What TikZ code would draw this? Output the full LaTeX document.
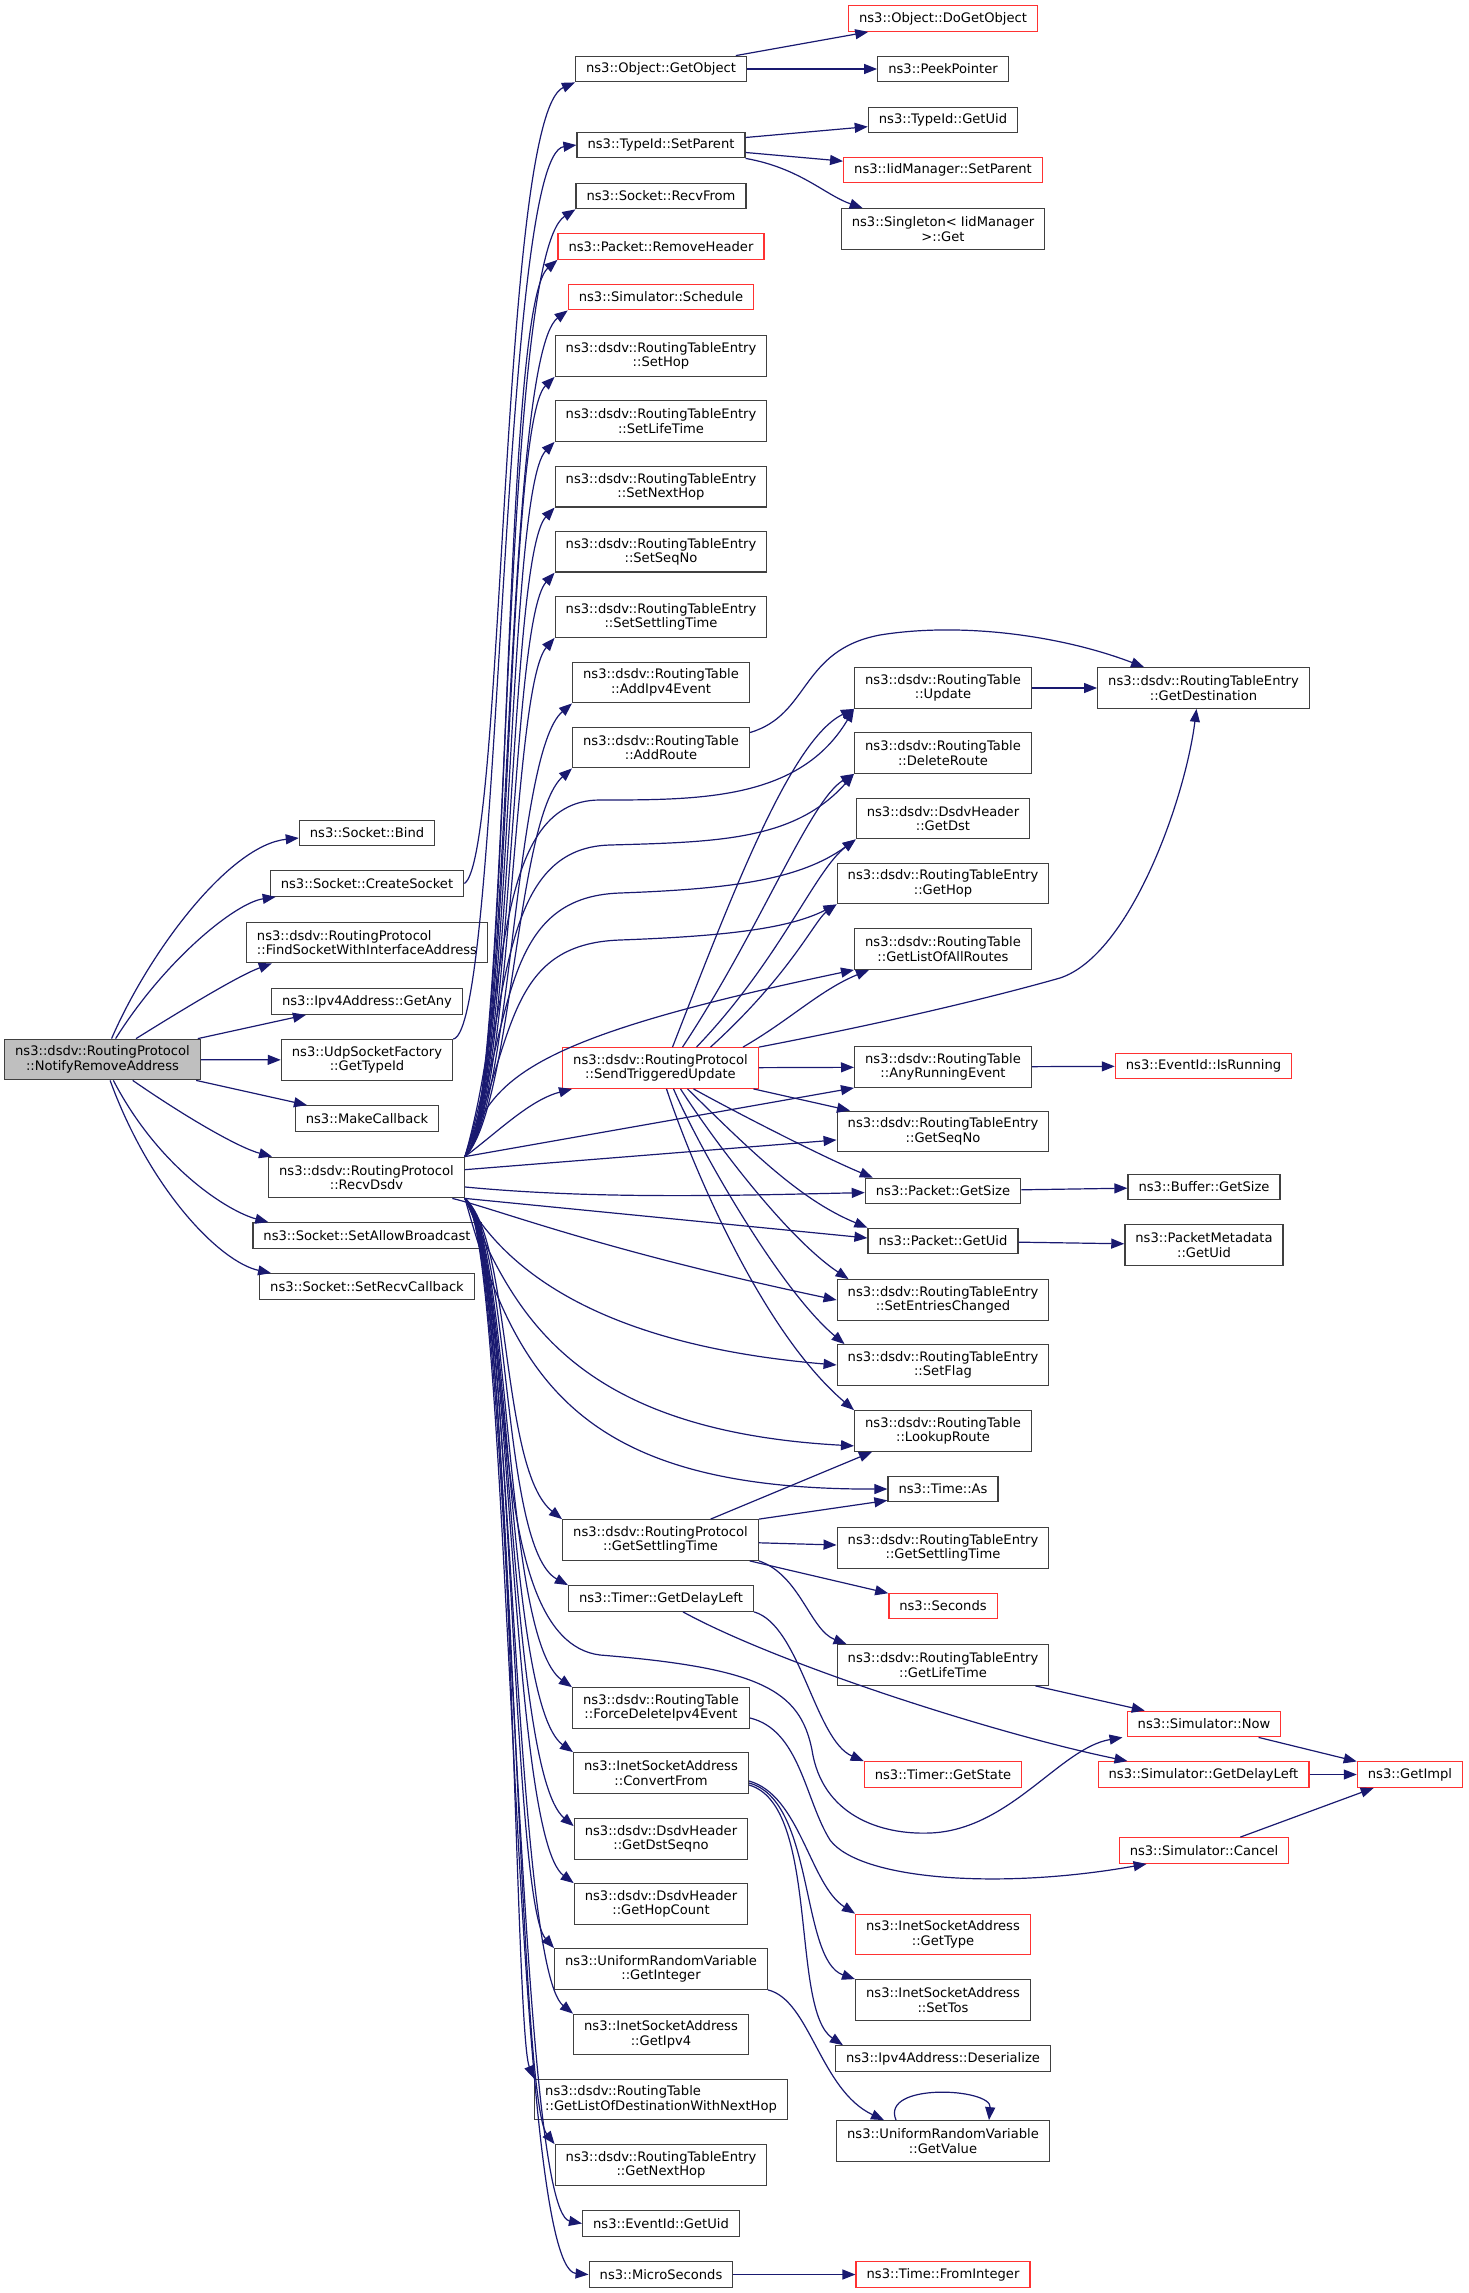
\documentclass[tikz,border=0pt]{standalone}
\usepackage{fontspec}
\usepackage{tikz}
\usetikzlibrary{arrows.meta}
\newfontfamily\graphfont{DejaVu Sans}
\definecolor{edgeblue}{RGB}{25,25,112}
\definecolor{boxgray}{RGB}{64,64,64}
\definecolor{boxred}{RGB}{255,50,50}
\definecolor{rootfill}{RGB}{191,191,191}

\begin{document}
\begin{tikzpicture}[x=1pt,y=-1pt,
	fn/.style={draw=boxgray, line width=1.3pt, fill=white, font=\graphfont\fontsize{13.1}{14.5}\selectfont, inner xsep=10.5pt, inner ysep=0pt, minimum height=25.5pt},
	fntwo/.style={fn, align=center, minimum height=40.5pt},
	trunc/.style={draw=boxred},
	call/.style={draw=edgeblue, line width=1.2pt, -{Triangle[length=13pt,width=10pt]}}]
				\useasboundingbox (0,0) rectangle (1468,2293);
				% root
				\node[fntwo, fill=rootfill] (nra) at (102.5,1059.5) {ns3::dsdv::RoutingProtocol\\::NotifyRemoveAddress};
				% second column
				\node[fn] (bind) at (367,833) {ns3::Socket::Bind};
				\node[fn] (csock) at (367,883.5) {ns3::Socket::CreateSocket};
				\node[fntwo, align=left] (fsock) at (367,942.5) {ns3::dsdv::RoutingProtocol\\::FindSocketWithInterfaceAddress};
				\node[fn] (getany) at (367,1001.5) {ns3::Ipv4Address::GetAny};
				\node[fntwo] (udptid) at (367,1060) {ns3::UdpSocketFactory\\::GetTypeId};
				\node[fn] (mkcb) at (367,1118.5) {ns3::MakeCallback};
				\node[fntwo] (rd) at (366.5,1177.5) {ns3::dsdv::RoutingProtocol\\::RecvDsdv};
				\node[fn] (sab) at (367,1235.5) {ns3::Socket::SetAllowBroadcast};
				\node[fn] (src) at (367,1286.5) {ns3::Socket::SetRecvCallback};
				% third column
				\node[fn] (getobj) at (661,69) {ns3::Object::GetObject};
				\node[fn] (setpar) at (661,145) {ns3::TypeId::SetParent};
				\node[fn] (recvfrom) at (661,196) {ns3::Socket::RecvFrom};
				\node[fn, trunc] (rmhdr) at (661,246.5) {ns3::Packet::RemoveHeader};
				\node[fn, trunc] (sched) at (661,297) {ns3::Simulator::Schedule};
				\node[fntwo] (sethop) at (661,356) {ns3::dsdv::RoutingTableEntry\\::SetHop};
				\node[fntwo] (setlife) at (661,421) {ns3::dsdv::RoutingTableEntry\\::SetLifeTime};
				\node[fntwo] (setnext) at (661,486.7) {ns3::dsdv::RoutingTableEntry\\::SetNextHop};
				\node[fntwo] (setseq) at (661,551.8) {ns3::dsdv::RoutingTableEntry\\::SetSeqNo};
				\node[fntwo] (setsettle) at (661,617) {ns3::dsdv::RoutingTableEntry\\::SetSettlingTime};
				\node[fntwo] (addev) at (661,682.5) {ns3::dsdv::RoutingTable\\::AddIpv4Event};
				\node[fntwo] (addrt) at (661,747.5) {ns3::dsdv::RoutingTable\\::AddRoute};
				\node[fntwo, trunc] (stu) at (660.5,1068) {ns3::dsdv::RoutingProtocol\\::SendTriggeredUpdate};
				\node[fntwo] (gst) at (660.5,1540) {ns3::dsdv::RoutingProtocol\\::GetSettlingTime};
				\node[fn] (tgdl) at (661,1598.5) {ns3::Timer::GetDelayLeft};
				\node[fntwo] (fdel) at (661,1708) {ns3::dsdv::RoutingTable\\::ForceDeleteIpv4Event};
				\node[fntwo] (conv) at (661,1773) {ns3::InetSocketAddress\\::ConvertFrom};
				\node[fntwo] (gdseq) at (661,1839) {ns3::dsdv::DsdvHeader\\::GetDstSeqno};
				\node[fntwo] (ghc) at (661,1904) {ns3::dsdv::DsdvHeader\\::GetHopCount};
				\node[fntwo] (gint) at (661,1969) {ns3::UniformRandomVariable\\::GetInteger};
				\node[fntwo] (gipv4) at (661,2034.5) {ns3::InetSocketAddress\\::GetIpv4};
				\node[fntwo, align=left] (gldest) at (661,2099.5) {ns3::dsdv::RoutingTable\\::GetListOfDestinationWithNextHop};
				\node[fntwo] (gnext) at (661,2165) {ns3::dsdv::RoutingTableEntry\\::GetNextHop};
				\node[fn] (evuid) at (661,2223.5) {ns3::EventId::GetUid};
				\node[fn] (micro) at (661,2274.5) {ns3::MicroSeconds};
				% fourth column
				\node[fn, trunc] (dogo) at (943,18.5) {ns3::Object::DoGetObject};
				\node[fn] (peek) at (943,69) {ns3::PeekPointer};
				\node[fn] (tiduid) at (943,120) {ns3::TypeId::GetUid};
				\node[fn, trunc] (iidsp) at (943,170) {ns3::IidManager::SetParent};
				\node[fntwo] (single) at (943,229) {ns3::Singleton< IidManager\\>::Get};
				\node[fntwo] (upd) at (943,688) {ns3::dsdv::RoutingTable\\::Update};
				\node[fntwo] (delrt) at (943,753) {ns3::dsdv::RoutingTable\\::DeleteRoute};
				\node[fntwo] (gdst) at (943,818.5) {ns3::dsdv::DsdvHeader\\::GetDst};
				\node[fntwo] (ghop) at (943,883.5) {ns3::dsdv::RoutingTableEntry\\::GetHop};
				\node[fntwo] (glall) at (943,949) {ns3::dsdv::RoutingTable\\::GetListOfAllRoutes};
				\node[fntwo] (anyrun) at (943,1067) {ns3::dsdv::RoutingTable\\::AnyRunningEvent};
				\node[fntwo] (gseq) at (943,1131.5) {ns3::dsdv::RoutingTableEntry\\::GetSeqNo};
				\node[fn] (pgsize) at (943,1191) {ns3::Packet::GetSize};
				\node[fn] (pguid) at (943,1241) {ns3::Packet::GetUid};
				\node[fntwo] (setent) at (943,1300) {ns3::dsdv::RoutingTableEntry\\::SetEntriesChanged};
				\node[fntwo] (setflag) at (943,1365) {ns3::dsdv::RoutingTableEntry\\::SetFlag};
				\node[fntwo] (lookup) at (943,1431) {ns3::dsdv::RoutingTable\\::LookupRoute};
				\node[fn] (tas) at (943,1489) {ns3::Time::As};
				\node[fntwo] (rgst) at (943,1548) {ns3::dsdv::RoutingTableEntry\\::GetSettlingTime};
				\node[fn, trunc] (secs) at (943,1606) {ns3::Seconds};
				\node[fntwo] (glife) at (943,1665) {ns3::dsdv::RoutingTableEntry\\::GetLifeTime};
				\node[fn, trunc] (tgstate) at (943,1774.5) {ns3::Timer::GetState};
				\node[fntwo, trunc] (gtype) at (943,1934.5) {ns3::InetSocketAddress\\::GetType};
				\node[fntwo] (settos) at (943,2000) {ns3::InetSocketAddress\\::SetTos};
				\node[fn] (deser) at (943,2058.5) {ns3::Ipv4Address::Deserialize};
				\node[fntwo] (gval) at (943,2141) {ns3::UniformRandomVariable\\::GetValue};
				\node[fn, trunc] (fromint) at (943,2274.5) {ns3::Time::FromInteger};
				% fifth and sixth column
				\node[fntwo] (gdest) at (1203.5,688) {ns3::dsdv::RoutingTableEntry\\::GetDestination};
				\node[fn, trunc] (isrun) at (1203.5,1066) {ns3::EventId::IsRunning};
				\node[fn] (bgsize) at (1204,1187) {ns3::Buffer::GetSize};
				\node[fntwo] (pmuid) at (1204,1245) {ns3::PacketMetadata\\::GetUid};
				\node[fn, trunc] (snow) at (1204,1724) {ns3::Simulator::Now};
				\node[fn, trunc] (sgdl) at (1203.5,1774.5) {ns3::Simulator::GetDelayLeft};
				\node[fn, trunc] (scancel) at (1204,1850.5) {ns3::Simulator::Cancel};
				\node[fn, trunc] (gimpl) at (1410,1774.5) {ns3::GetImpl};
				% calls of the root
				\draw[call] (nra) .. controls (150,950) and (230,845) .. ([yshift=-5pt]bind.west);
				\draw[call] (nra) .. controls (165,960) and (235,903) .. ([xshift=6pt]csock.south west);
				\draw[call] (nra) .. controls (190,1005) and (240,975) .. ([xshift=26pt]fsock.south west);
				\draw[call] (nra) -- (getany);
				\draw[call] (nra) -- (udptid);
				\draw[call] (nra) -- (mkcb);
				\draw[call] (nra) .. controls (190,1120) and (240,1148) .. ([xshift=4pt]rd.north west);
				\draw[call] (nra) .. controls (160,1170) and (230,1212) .. ([xshift=16pt]sab.north west);
				\draw[call] (nra) .. controls (150,1190) and (220,1262) .. ([xshift=12pt]src.north west);
				% second column
				\draw[call] (csock.east) .. controls (505,860) and (500,115) .. (getobj.south west);
				\draw[call] (udptid.north east) .. controls (502,1030) and (500,155) .. (setpar.west);
				% RecvDsdv, upwards
				\draw[call] (rd.north east) .. controls (512,1110) and (498,259) .. (recvfrom.south west);
				\draw[call] (rd.north east) .. controls (512,1110) and (500,309) .. (rmhdr.south west);
				\draw[call] (rd.north east) .. controls (512,1110) and (502,360) .. (sched.south west);
				\draw[call] (rd.north east) .. controls (512,1110) and (504,426) .. (sethop.south west);
				\draw[call] (rd.north east) .. controls (512,1110) and (506,491) .. (setlife.south west);
				\draw[call] (rd.north east) .. controls (512,1110) and (508,557) .. (setnext.south west);
				\draw[call] (rd.north east) .. controls (512,1110) and (510,622) .. (setseq.south west);
				\draw[call] (rd.north east) .. controls (512,1110) and (512,687) .. (setsettle.south west);
				\draw[call] (rd.north east) .. controls (512,1110) and (514,753) .. (addev.south west);
				\draw[call] (rd.north east) .. controls (512,1110) and (516,818) .. (addrt.south west);
				\draw[call] (rd.north east) .. controls (510,1000) and (490,800) .. (600,800) .. controls (700,800) and (800,800) .. (upd.south west);
				\draw[call] (rd.north east) .. controls (512,1010) and (495,848) .. (610,845) .. controls (720,842) and (795,840) .. (delrt.south west);
				\draw[call] (rd.north east) .. controls (514,1020) and (500,897) .. (620,893) .. controls (730,889) and (800,880) .. (gdst.south west);
				\draw[call] (rd.north east) .. controls (515,1040) and (505,944) .. (620,940) .. controls (730,936) and (790,928) .. (ghop.south west);
				\draw[call] (rd.north east) .. controls (490,1080) and (520,1040) .. (glall.south west);
				\draw[call] (rd.north east) .. controls (500,1130) and (530,1100) .. ([xshift=10pt]stu.south west);
				\draw[call] (rd.north east) -- (anyrun.south west);
				% RecvDsdv, to the right
				\draw[call] (rd) -- (gseq);
				\draw[call] (rd) .. controls (600,1200) and (750,1195) .. (pgsize);
				\draw[call] (rd.south east) -- ([yshift=3pt]pguid.west);
				\draw[call] (rd) .. controls (500,1210) and (600,1250) .. (setent.west);
				\draw[call] (rd.south east) .. controls (505,1270) and (600,1345) .. (setflag.west);
				\draw[call] (rd.south east) .. controls (510,1300) and (560,1430) .. ([yshift=6pt]lookup.south west);
				\draw[call] (rd.south east) .. controls (515,1380) and (580,1490) .. (tas.west);
				\draw[call] (rd.south east) .. controls (520,1300) and (480,1640) .. (600,1655) .. controls (760,1668) and (800,1690) .. (812,1750) .. controls (822,1815) and (880,1835) .. (930,1833) .. controls (1010,1830) and (1060,1748) .. ([xshift=-4pt]snow.south west);
				% RecvDsdv, downwards
				\draw[call] (rd.south east) .. controls (512,1240) and (500,1470) .. (gst.north west);
				\draw[call] (rd.south east) .. controls (512,1240) and (500,1548) .. (tgdl.north west);
				\draw[call] (rd.south east) .. controls (512,1240) and (502,1638) .. (fdel.north west);
				\draw[call] (rd.south east) .. controls (512,1240) and (504,1703) .. (conv.north west);
				\draw[call] (rd.south east) .. controls (512,1240) and (506,1769) .. ([yshift=-8pt]gdseq.north west);
				\draw[call] (rd.south east) .. controls (512,1240) and (508,1834) .. (ghc.north west);
				\draw[call] (rd.south east) .. controls (512,1240) and (510,1899) .. (gint.north west);
				\draw[call] (rd.south east) .. controls (512,1240) and (512,1964) .. (gipv4.north west);
				\draw[call] (rd.south east) .. controls (512,1240) and (514,2029) .. (gldest.north west);
				\draw[call] (rd.south east) .. controls (512,1240) and (516,2095) .. (gnext.north west);
				\draw[call] (rd.south east) .. controls (512,1240) and (515,2210) .. (evuid.west);
				\draw[call] (rd.south east) .. controls (512,1240) and (510,2268) .. (micro.west);
				% SendTriggeredUpdate
				\draw[call] ([xshift=12pt]stu.north) .. controls (730,900) and (790,740) .. (upd.south west);
				\draw[call] ([xshift=22pt]stu.north) .. controls (760,930) and (810,800) .. (delrt.south west);
				\draw[call] ([xshift=36pt]stu.north) .. controls (780,960) and (815,870) .. (gdst.south west);
				\draw[call] ([xshift=50pt]stu.north) .. controls (790,975) and (815,920) .. (ghop.south west);
				\draw[call] ([xshift=-16pt]stu.north east) .. controls (790,1020) and (820,990) .. ([xshift=15pt]glall.south west);
				\draw[call] (stu.north east) .. controls (900,1020) and (1000,995) .. (1060,978) .. controls (1130,955) and (1185,800) .. ([xshift=-7pt]gdest.south);
				\draw[call] (stu) -- (anyrun);
				\draw[call] (stu) -- (gseq);
				\draw[call] ([xshift=33pt]stu.south) .. controls (750,1120) and (830,1160) .. ([xshift=8pt]pgsize.north west);
				\draw[call] ([xshift=27pt]stu.south) .. controls (750,1150) and (800,1200) .. (pguid.north west);
				\draw[call] ([xshift=20pt]stu.south) .. controls (720,1150) and (790,1240) .. ([xshift=12pt]setent.north west);
				\draw[call] ([xshift=13pt]stu.south) .. controls (700,1150) and (780,1290) .. ([xshift=8pt]setflag.north west);
				\draw[call] ([xshift=6pt]stu.south) .. controls (690,1160) and (760,1330) .. (lookup.north west);
				% GetSettlingTime
				\draw[call] (gst) -- ([xshift=18pt]lookup.south west);
				\draw[call] (gst.north east) -- ([yshift=2pt]tas.south west);
				\draw[call] (gst) -- (rgst);
				\draw[call] (gst) -- (secs);
				\draw[call] (gst.south east) .. controls (800,1575) and (810,1630) .. ([xshift=10pt]glife.north west);
				% timers and events
				\draw[call] (tgdl.south east) .. controls (800,1625) and (815,1740) .. (tgstate.north west);
				\draw[call] ([xshift=22pt]tgdl.south) .. controls (780,1665) and (1000,1735) .. ([xshift=30pt]sgdl.north west);
				\draw[call] ([yshift=-10pt]fdel.east) .. controls (800,1730) and (805,1800) .. (830,1840) .. controls (860,1880) and (1000,1890) .. ([xshift=28pt]scancel.south west);
				\draw[call] ([yshift=-8pt]conv.east) .. controls (800,1795) and (810,1885) .. (gtype.north west);
				\draw[call] ([yshift=-10pt]conv.east) .. controls (815,1800) and (800,1960) .. (settos.north west);
				\draw[call] ([yshift=-12pt]conv.east) .. controls (820,1805) and (790,2010) .. ([xshift=8pt]deser.north west);
				\draw[call] (gint.south east) .. controls (810,2000) and (820,2090) .. ([xshift=48pt]gval.north west);
				\draw[call] ([xshift=-47pt]gval.north) .. controls (880,2082) and (992,2088) .. ([xshift=46pt]gval.north);
				\draw[call] (micro) -- (fromint);
				% fourth column
				\draw[call] (getobj) -- (dogo);
				\draw[call] (getobj) -- (peek);
				\draw[call] (setpar) -- (tiduid);
				\draw[call] (setpar) -- (iidsp);
				\draw[call] (setpar.south east) .. controls (800,168) and (825,195) .. ([xshift=22pt]single.north west);
				\draw[call] ([yshift=15pt]addrt.east) .. controls (810,715) and (800,650) .. (880,635) .. controls (960,622) and (1060,635) .. ([xshift=47pt]gdest.north west);
				\draw[call] (upd) -- (gdest);
				\draw[call] (anyrun) -- (isrun);
				\draw[call] (pgsize) -- (bgsize);
				\draw[call] (pguid) -- (pmuid);
				\draw[call] (glife) -- (snow);
				% simulator
				\draw[call] (snow) -- (gimpl);
				\draw[call] (sgdl) -- (gimpl);
				\draw[call] (scancel) -- (gimpl);
				\end{tikzpicture}
\end{document}
